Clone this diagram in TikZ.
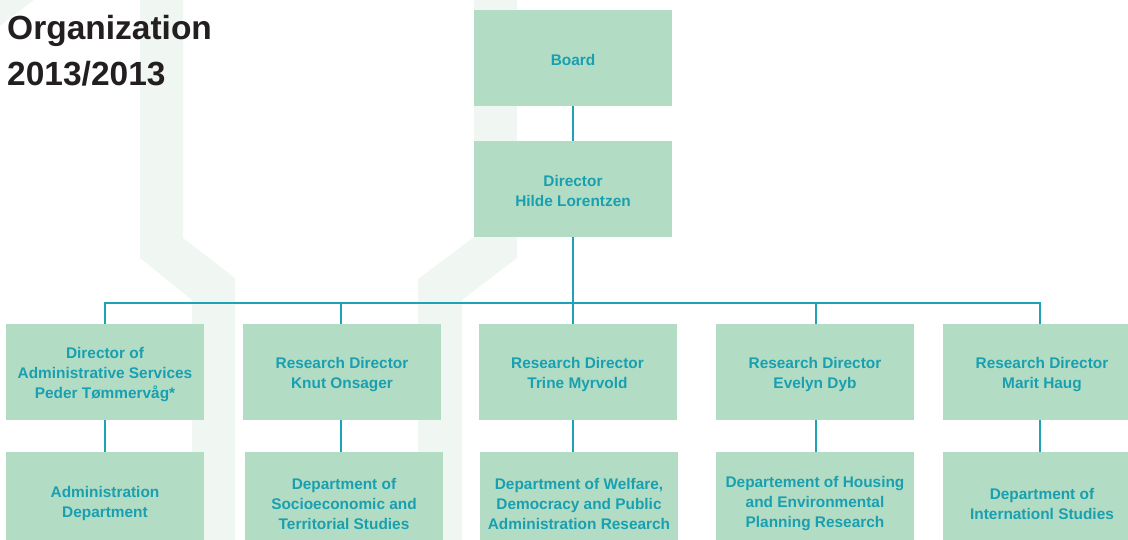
\documentclass[tikz,border=0pt]{standalone}
\usepackage{fontspec}
\setmainfont{Liberation Sans}
\definecolor{boxfill}{HTML}{B3DCC5}
\definecolor{teal}{HTML}{1DA2B6}
\definecolor{tealtext}{HTML}{18A0B0}
\definecolor{bgband}{HTML}{F0F7F2}
\definecolor{titlecol}{HTML}{231F20}
\tikzset{
  orgbox/.style={fill=boxfill, draw=none, minimum width=198pt, minimum height=96pt,
    inner sep=0pt},
  deptbox/.style={orgbox, minimum height=98pt},
  boxtext/.style={inner sep=0pt, align=center, text=tealtext,
    font=\fontsize{15.4}{20}\selectfont\bfseries},
  link/.style={draw=teal, line width=2pt},
  band/.style={fill=bgband, draw=none},
  titletext/.style={anchor=base west, inner sep=0pt, text=titlecol,
    font=\fontsize{33.5}{40}\selectfont\bfseries}
}
\begin{document}
\begin{tikzpicture}[x=1pt,y=-1pt]
\useasboundingbox (0,0) rectangle (1128,540);
\clip (0,0) rectangle (1128,540);
% background bands
\fill[band] (140,0) -- (183,0) -- (183,238) -- (235,278) -- (235,540) -- (192,540) -- (192,300) -- (140,258) -- cycle;
\fill[band] (474,0) -- (517,0) -- (517,258) -- (462,300) -- (462,540) -- (418,540) -- (418,279) -- (474,237) -- cycle;
\fill[band] (0,0) -- (34,0) -- (0,26) -- cycle;
% title
\node[titletext] (t1) at (7,40) {Organization};
\node[titletext] (t2) at (7,86) {2013/2013};
% top
\node[orgbox] (board) at (573,58) {};
\node[boxtext] (board-t) at ([yshift=-2pt]board.center) {Board};
\node[orgbox] (dir) at (573,189) {};
\node[boxtext] (dir-t) at ([yshift=-2pt]dir.center) {Director\\Hilde Lorentzen};
% level 2
\node[orgbox] (a1) at (105,372) {};
\node[orgbox] (a2) at (342,372) {};
\node[orgbox] (a3) at (577.5,372) {};
\node[orgbox] (a4) at (815,372) {};
\node[orgbox] (a5) at (1042,372) {};
\node[boxtext] (a1-t) at ([yshift=-2.5pt]a1.center) {Director of\\Administrative Services\\Peder Tømmervåg*};
\node[boxtext] (a2-t) at ([yshift=-2.5pt]a2.center) {Research Director\\Knut Onsager};
\node[boxtext] (a3-t) at ([yshift=-2.5pt]a3.center) {Research Director\\Trine Myrvold};
\node[boxtext] (a4-t) at ([yshift=-2.5pt]a4.center) {Research Director\\Evelyn Dyb};
\node[boxtext] (a5-t) at ([yshift=-2.5pt]a5.center) {Research Director\\Marit Haug};
% level 3
\node[deptbox] (b1) at (105,501) {};
\node[deptbox] (b2) at (344,501) {};
\node[deptbox] (b3) at (579,501) {};
\node[deptbox] (b4) at (815,501) {};
\node[deptbox] (b5) at (1042,501) {};
\node[boxtext] (b1-t) at ([yshift=-2.5pt]b1.center) {Administration\\Department};
\node[boxtext] (b2-t) at ([yshift=-2.5pt]b2.center) {Department of\\Socioeconomic and\\Territorial Studies};
\node[boxtext] (b3-t) at ([yshift=-2.5pt]b3.center) {Department of Welfare,\\Democracy and Public\\Administration Research};
\node[boxtext] (b4-t) at ([yshift=-2.5pt]b4.center) {Departement of Housing\\and Environmental\\Planning Research};
\node[boxtext] (b5-t) at ([yshift=-2.5pt]b5.center) {Department of\\Internationl Studies};
% connectors
\coordinate (barL) at (105,303);
\coordinate (barR) at (1040,303);
\coordinate (x1) at (105,0);
\coordinate (x2) at (341,0);
\coordinate (x3) at (573,0);
\coordinate (x4) at (816,0);
\coordinate (x5) at (1040,0);
\draw[link] (board.south) -- (dir.north);
\draw[link] (dir.south) -- (dir.south |- a3.north);
\draw[link] (x1 |- a1.north) -- (barL) -- (barR) -- (x5 |- a5.north);
\draw[link] (x2 |- barL) -- (x2 |- a2.north);
\draw[link] (x4 |- barL) -- (x4 |- a4.north);
\draw[link] (x1 |- a1.south) -- (x1 |- b1.north);
\draw[link] (x2 |- a2.south) -- (x2 |- b2.north);
\draw[link] (x3 |- a3.south) -- (x3 |- b3.north);
\draw[link] (x4 |- a4.south) -- (x4 |- b4.north);
\draw[link] (x5 |- a5.south) -- (x5 |- b5.north);
\end{tikzpicture}
\end{document}
